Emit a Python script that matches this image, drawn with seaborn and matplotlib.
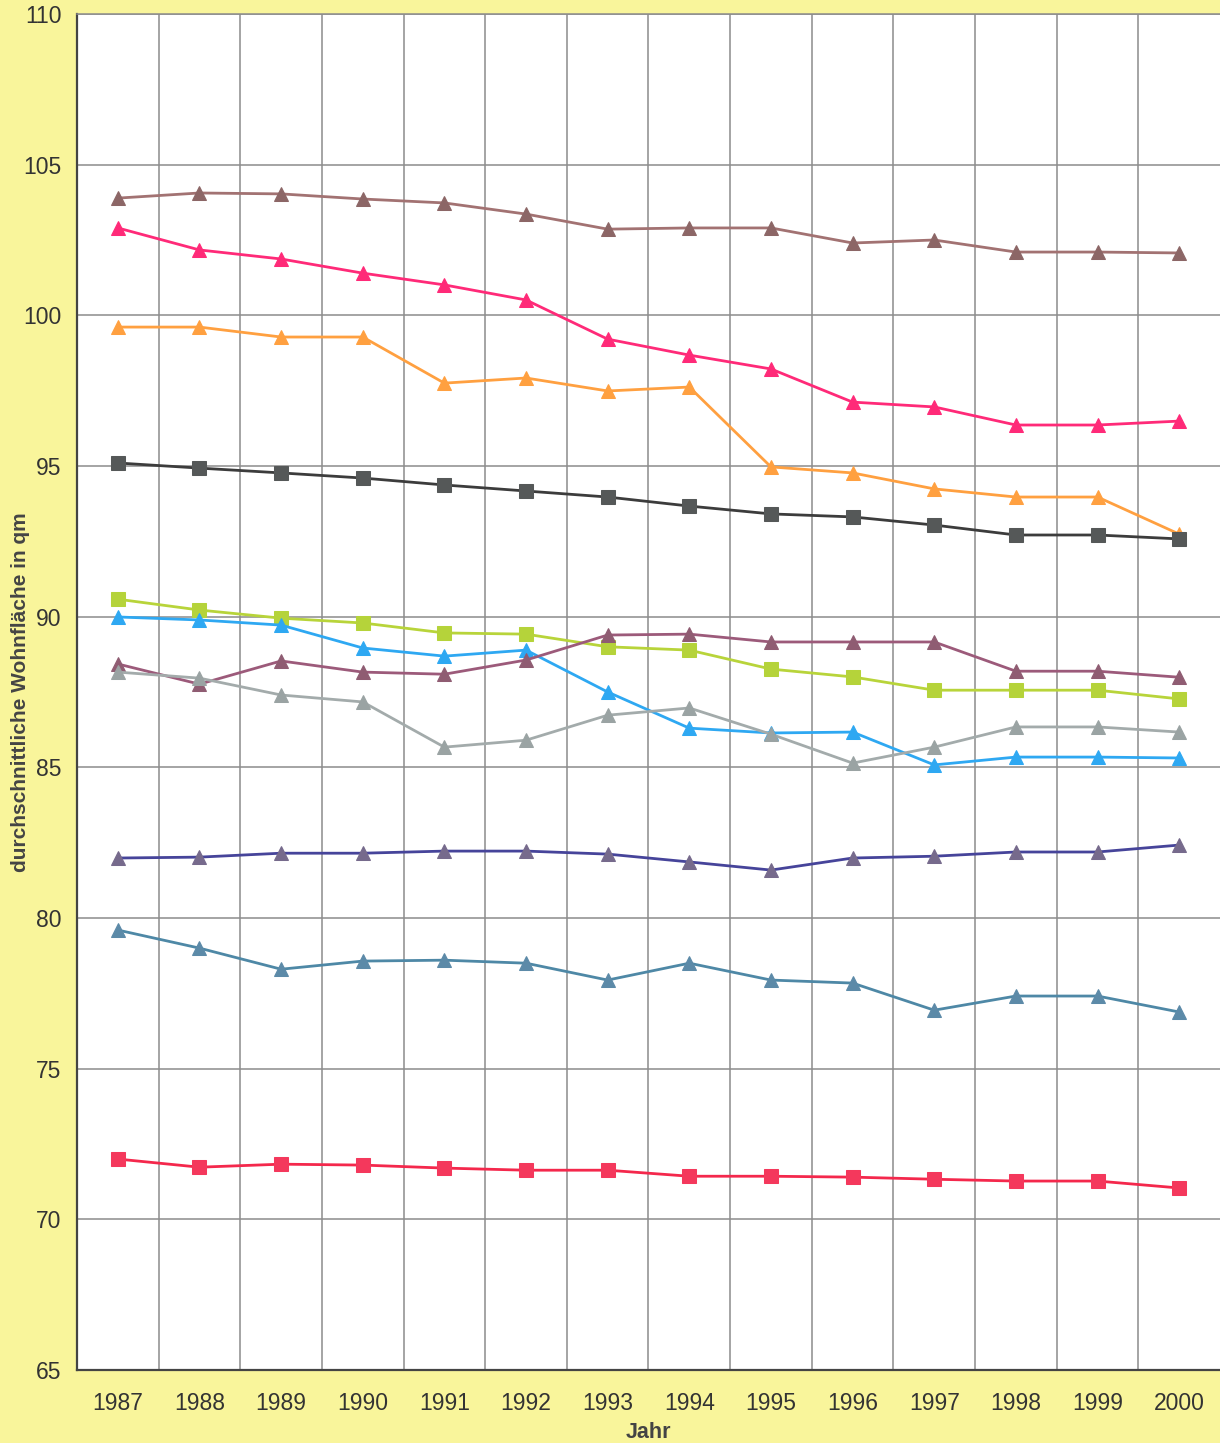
import matplotlib
matplotlib.use("Agg")
import matplotlib.pyplot as plt
import seaborn as sns
from matplotlib.ticker import FixedLocator, NullFormatter

# Jahre
jahre = list(range(1987, 2001))

# durchschnittliche Wohnfläche je Reihe
reihe_braun = [103.89, 104.06, 104.03, 103.86, 103.73, 103.36, 102.86, 102.90, 102.90, 102.40, 102.50, 102.10, 102.10, 102.07]
reihe_pink = [102.90, 102.17, 101.87, 101.40, 101.01, 100.51, 99.21, 98.68, 98.22, 97.12, 96.96, 96.36, 96.36, 96.49]
reihe_orange = [99.61, 99.61, 99.28, 99.28, 97.75, 97.92, 97.49, 97.62, 94.97, 94.77, 94.24, 93.97, 93.97, 92.74]
reihe_dunkelgrau = [95.10, 94.93, 94.77, 94.60, 94.37, 94.17, 93.97, 93.67, 93.41, 93.31, 93.04, 92.71, 92.71, 92.58]
reihe_gelbgruen = [90.58, 90.22, 89.95, 89.79, 89.46, 89.42, 89.00, 88.89, 88.26, 88.00, 87.56, 87.56, 87.56, 87.27]
reihe_hellblau = [89.99, 89.89, 89.72, 88.96, 88.69, 88.89, 87.50, 86.30, 86.14, 86.17, 85.08, 85.34, 85.34, 85.31]
reihe_mauve = [88.43, 87.76, 88.53, 88.16, 88.09, 88.56, 89.39, 89.42, 89.16, 89.16, 89.16, 88.19, 88.19, 87.99]
reihe_grau = [88.16, 87.96, 87.40, 87.17, 85.67, 85.90, 86.73, 86.97, 86.10, 85.14, 85.67, 86.34, 86.34, 86.17]
reihe_dunkelblau = [81.99, 82.02, 82.15, 82.15, 82.22, 82.22, 82.12, 81.86, 81.59, 81.99, 82.05, 82.19, 82.19, 82.42]
reihe_stahlblau = [79.60, 79.00, 78.30, 78.57, 78.60, 78.50, 77.94, 78.50, 77.94, 77.84, 76.94, 77.41, 77.41, 76.88]
reihe_rot = [72.00, 71.73, 71.83, 71.80, 71.70, 71.63, 71.63, 71.43, 71.43, 71.40, 71.33, 71.27, 71.27, 71.04]

y_ticks = [65, 70, 75, 80, 85, 90, 95, 100, 105, 110]

# (Werte, Linienfarbe, Markerfarbe, Marker)
reihen = [
    (reihe_braun, "#a27272", "#8c6666", "^"),
    (reihe_pink, "#ff2a78", "#ff2a78", "^"),
    (reihe_orange, "#ffa040", "#ffa040", "^"),
    (reihe_dunkelgrau, "#3c3c3c", "#555858", "s"),
    (reihe_gelbgruen, "#b8d43a", "#b5d33a", "s"),
    (reihe_hellblau, "#2ea8f2", "#2ea8f2", "^"),
    (reihe_mauve, "#9c5a7a", "#8f5c72", "^"),
    (reihe_grau, "#a3abab", "#9aa3a3", "^"),
    (reihe_dunkelblau, "#46449a", "#766a8c", "^"),
    (reihe_stahlblau, "#4e88a6", "#5c8aa8", "^"),
    (reihe_rot, "#f4284c", "#f4385c", "s"),
]

sns.set_style("white")
plt.rcParams["font.family"] = ["Liberation Sans", "DejaVu Sans"]

fig = plt.figure(figsize=(12.2, 14.43), dpi=100)
fig.patch.set_facecolor("#f9f59b")
ax = fig.add_axes([0.0631, 0.0506, 0.9369, 0.9397])
ax.set_facecolor("white")

for werte, farbe, mfarbe, marker in reihen:
    sns.lineplot(x=jahre, y=werte, ax=ax, color=farbe, linewidth=2,
                 marker=marker, markersize=10,
                 markerfacecolor=mfarbe, markeredgecolor=mfarbe)

ax.set_xlim(jahre[0] - 0.5, jahre[-1] + 0.5)
ax.set_ylim(65, 110)

# Grenzen zwischen den Jahren als Hauptticks (Gitter), Jahre als Nebenticks (Beschriftung)
grenzen = [j - 0.5 for j in jahre] + [jahre[-1] + 0.5]
ax.xaxis.set_major_locator(FixedLocator(grenzen[1:-1]))
ax.xaxis.set_major_formatter(NullFormatter())
ax.xaxis.set_minor_locator(FixedLocator(jahre))
ax.set_xticklabels([str(j) for j in jahre], minor=True)
ax.tick_params(axis="x", which="major", length=7, width=1, color="#666666", direction="out")
ax.tick_params(axis="x", which="minor", length=0, labelsize=16.5, colors="#333333", pad=16)

ax.set_yticks(y_ticks)
ax.tick_params(axis="y", length=7, width=1, color="#666666", direction="out", labelsize=16.5,
               labelcolor="#333333", pad=4)

ax.grid(True, which="major", axis="both", color="#8c8c8c", linewidth=1.1)
ax.set_axisbelow(True)

for s in ["left", "bottom"]:
    ax.spines[s].set_color("#444444")
    ax.spines[s].set_linewidth(1.6)
ax.spines["top"].set_color("#8c8c8c")
ax.spines["top"].set_linewidth(1.1)
ax.spines["right"].set_visible(False)

ax.set_xlabel("Jahr", fontsize=15.5, fontweight="bold", color="#444444", labelpad=5)
ax.set_ylabel("durchschnittliche Wohnfläche in qm", fontsize=15, fontweight="bold",
              color="#444444")
ax.yaxis.set_label_coords(-0.041, 0.5)

fig.savefig("out.png", dpi=100, facecolor=fig.get_facecolor())
